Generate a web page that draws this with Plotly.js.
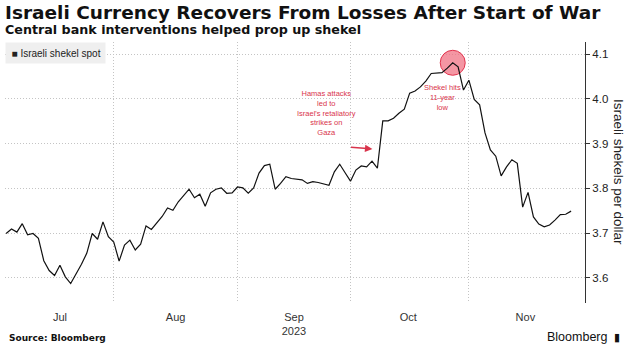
<!DOCTYPE html>
<html>
<head>
<meta charset="utf-8">
<script src="https://cdn.plot.ly/plotly-3.0.1.min.js"></script>
<style>html,body{margin:0;padding:0;background:#fff;}#chart{width:627px;height:352px;}</style>
</head>
<body>
<div id="chart"></div>
<script>
// Trading days (weekdays) shown on the chart
const dates = [
  "2023-07-04","2023-07-05","2023-07-06","2023-07-07","2023-07-10","2023-07-11","2023-07-12","2023-07-13","2023-07-14",
  "2023-07-17","2023-07-18","2023-07-19","2023-07-20","2023-07-21","2023-07-24","2023-07-25","2023-07-26","2023-07-27","2023-07-28","2023-07-31",
  "2023-08-01","2023-08-02","2023-08-03","2023-08-04","2023-08-07","2023-08-08","2023-08-09","2023-08-10","2023-08-11",
  "2023-08-14","2023-08-15","2023-08-16","2023-08-17","2023-08-18","2023-08-21","2023-08-22","2023-08-23","2023-08-24","2023-08-25",
  "2023-08-28","2023-08-29","2023-08-30","2023-08-31",
  "2023-09-01","2023-09-04","2023-09-05","2023-09-06","2023-09-07","2023-09-08","2023-09-11","2023-09-12","2023-09-13","2023-09-14","2023-09-15",
  "2023-09-18","2023-09-19","2023-09-20","2023-09-21","2023-09-22","2023-09-25","2023-09-26","2023-09-27","2023-09-28","2023-09-29",
  "2023-10-02","2023-10-03","2023-10-04","2023-10-05","2023-10-06","2023-10-09","2023-10-10","2023-10-11","2023-10-12","2023-10-13",
  "2023-10-16","2023-10-17","2023-10-18","2023-10-19","2023-10-20","2023-10-23","2023-10-24","2023-10-25","2023-10-26","2023-10-27",
  "2023-10-30","2023-10-31",
  "2023-11-01","2023-11-02","2023-11-03","2023-11-06","2023-11-07","2023-11-08","2023-11-09","2023-11-10","2023-11-13","2023-11-14",
  "2023-11-15","2023-11-16","2023-11-17","2023-11-20","2023-11-21","2023-11-22","2023-11-23","2023-11-24","2023-11-27","2023-11-28"
];
// Israeli shekels per dollar
const shekelSpot = [
  3.699,3.709,3.702,3.721,3.696,3.699,3.688,3.638,3.616,
  3.605,3.628,3.602,3.587,3.608,3.630,3.655,3.699,3.686,3.725,3.692,
  3.680,3.637,3.673,3.684,3.662,3.675,3.716,3.708,3.722,
  3.737,3.756,3.751,3.770,3.785,3.798,3.779,3.787,3.760,3.790,
  3.798,3.801,3.789,3.790,
  3.803,3.801,3.789,3.801,3.834,3.851,3.854,3.798,3.811,3.826,3.822,
  3.820,3.819,3.811,3.815,3.813,3.810,3.807,3.837,3.854,3.835,
  3.816,3.841,3.850,3.848,3.861,3.845,3.951,3.951,3.957,3.968,
  3.977,4.013,4.018,4.027,4.040,4.057,4.058,4.059,4.069,4.081,
  4.072,4.020,
  4.042,3.999,3.987,3.924,3.886,3.872,3.828,3.848,3.864,3.856,
  3.758,3.791,3.736,3.720,3.714,3.718,3.729,3.741,3.742,3.749
];
// Highlighted 11-year low of the shekel
const peakDate = ["2023-10-27"];
const peakValue = [4.081];

// Axis ticks
const monthStarts = ["2023-08-01","2023-09-01","2023-10-02","2023-11-01"];
const monthMids = ["2023-07-18 00:00","2023-08-16 12:00","2023-09-15 12:00","2023-10-16 18:00","2023-11-15 12:00"];
const monthLabels = ["Jul","Aug","Sep<br>2023","Oct","Nov"];
const yTicks = [3.6,3.7,3.8,3.9,4.0,4.1];
const yTickLabels = ["3.6","3.7","3.8","3.9","4.0","4.1"];

const RED = "#d9344c";
const TXT = "#222222";
const GRID = "#c4c4c4";

const traces = [
  {
    x: peakDate, y: peakValue, type: "scatter", mode: "markers",
    marker: {size: 25, color: "rgba(240,110,128,0.72)", line: {color: "#e2344e", width: 1}},
    hoverinfo: "skip", showlegend: false
  },
  {
    x: dates, y: shekelSpot, type: "scatter", mode: "lines",
    line: {color: "#111111", width: 1.2},
    name: "Israeli shekel spot", showlegend: false
  }
];

const layout = {
  width: 627, height: 352,
  margin: {l: 5, r: 42, t: 42, b: 49},
  paper_bgcolor: "#ffffff", plot_bgcolor: "#ffffff",
  font: {family: "Liberation Sans, Arial, sans-serif", color: TXT},
  showlegend: false,
  xaxis: {
    type: "date",
    range: ["2023-07-03 19:00", "2023-11-30 14:00"],
    rangebreaks: [{bounds: ["sat", "mon"]}],
    tickmode: "array", tickvals: monthMids, ticktext: monthLabels,
    showgrid: false, zeroline: false, showline: false, ticks: "",
    ticklabelstandoff: 6,
    tickfont: {size: 11, color: "#333333", family: "Liberation Sans, Arial, sans-serif"},
    minor: {tickvals: monthStarts, showgrid: true, gridcolor: GRID, griddash: "1px,2px", gridwidth: 1, ticks: ""},
    fixedrange: true
  },
  yaxis: {
    side: "right",
    range: [3.5434, 4.1275],
    tickmode: "array", tickvals: yTicks, ticktext: yTickLabels,
    showgrid: true, gridcolor: GRID, griddash: "1px,2px", gridwidth: 1,
    zeroline: false,
    showline: true, linecolor: "#333333", linewidth: 1,
    ticks: "outside", ticklen: 4, tickcolor: "#333333",
    tickfont: {size: 11.5, color: TXT, family: "Liberation Sans, Arial, sans-serif"},
    fixedrange: true
  },
  annotations: [
    {
      xref: "paper", yref: "paper", x: -0.0035, y: (303 - 12.3) / 261, xanchor: "left", yanchor: "middle",
      text: "<b>Israeli Currency Recovers From Losses After Start of War</b>", showarrow: false,
      font: {family: "DejaVu Sans, Verdana, sans-serif", size: 18.5, color: "#111111"}
    },
    {
      xref: "paper", yref: "paper", x: -0.0035, y: (303 - 29.3) / 261, xanchor: "left", yanchor: "middle",
      text: "<b>Central bank interventions helped prop up shekel</b>", showarrow: false,
      font: {family: "DejaVu Sans, Verdana, sans-serif", size: 12.7, color: "#111111"}
    },
    {
      xref: "paper", yref: "paper", x: 0, y: 1, xanchor: "left", yanchor: "top",
      width: 99, height: 20, align: "left", bgcolor: "#efefef", borderpad: 0,
      text: "  <span style='font-size:10px'>■</span> Israeli shekel spot", showarrow: false,
      font: {size: 10, color: TXT, family: "Liberation Sans, Arial, sans-serif"}
    },
    {
      x: "2023-09-25 12:00", y: 3.968, xref: "x", yref: "y",
      text: "Hamas attacks<br>led to<br>Israel's retaliatory<br>strikes on<br>Gaza",
      showarrow: false, align: "center",
      font: {size: 7.5, color: RED, family: "Liberation Sans, Arial, sans-serif"}
    },
    {
      x: "2023-10-06 02:00", y: 3.888, xref: "x", yref: "y",
      text: "", showarrow: true, ax: -23, ay: -2,
      arrowhead: 2, arrowsize: 1, arrowwidth: 1.5, arrowcolor: RED
    },
    {
      x: "2023-10-25 01:00", y: 4.003, xref: "x", yref: "y",
      text: "Shekel hits<br>11-year<br>low",
      showarrow: false, align: "center",
      font: {size: 7.5, color: RED, family: "Liberation Sans, Arial, sans-serif"}
    },
    {
      xref: "paper", yref: "paper", x: (613 - 5) / 580, y: (303 - 172) / 261,
      xanchor: "center", yanchor: "middle", xshift: 6, borderpad: 0,
      text: "Israeli shekels per dollar", textangle: 90, showarrow: false,
      font: {size: 13.5, color: TXT, family: "Liberation Sans, Arial, sans-serif"}
    },
    {
      xref: "paper", yref: "paper", x: (7 - 5) / 580, y: (303 - 338) / 261, xanchor: "left", yanchor: "middle",
      text: "<b>Source: Bloomberg</b>", showarrow: false,
      font: {size: 9, color: "#111111", family: "DejaVu Sans, Verdana, sans-serif"}
    },
    {
      xref: "paper", yref: "paper", x: (609 - 5) / 580, y: (303 - 337) / 261, xanchor: "right", yanchor: "middle",
      text: "Bloomberg", showarrow: false,
      font: {size: 12.5, color: "#111111", family: "Liberation Sans, Arial, sans-serif"}
    },
    {
      xref: "paper", yref: "paper", x: (617 - 5) / 580, y: (303 - 337) / 261, xanchor: "center", yanchor: "middle",
      text: "<b>▮</b>", showarrow: false,
      font: {size: 11, color: "#111111", family: "DejaVu Sans, sans-serif"}
    }
  ]
};

Plotly.newPlot("chart", traces, layout, {displayModeBar: false, staticPlot: true});
</script>
</body>
</html>
